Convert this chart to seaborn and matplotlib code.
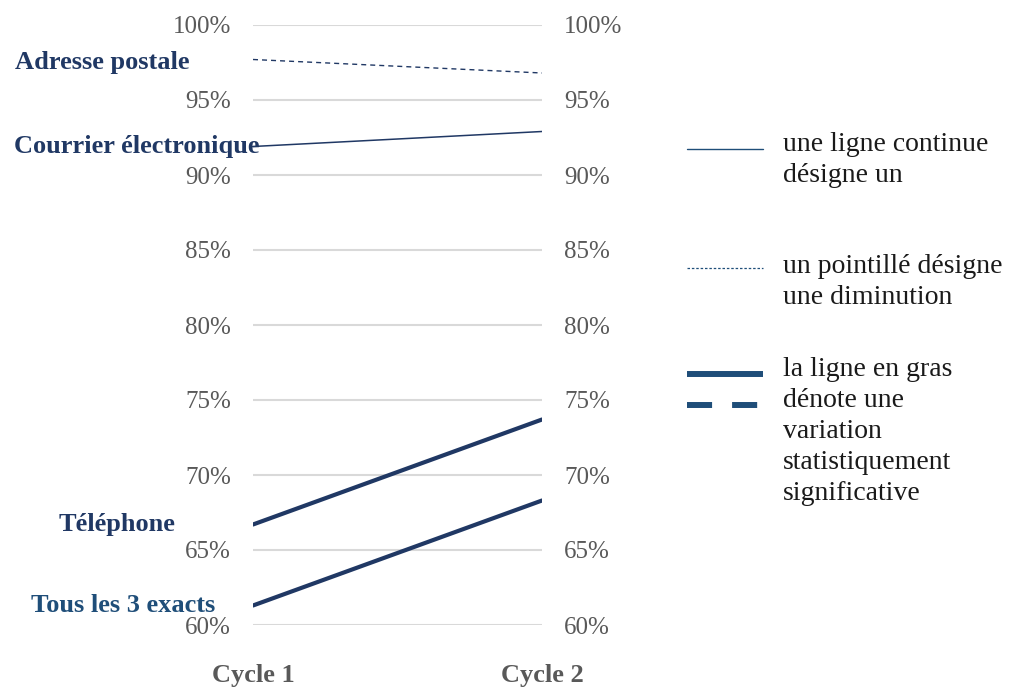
import matplotlib
matplotlib.use("Agg")
import matplotlib.pyplot as plt
import pandas as pd
import seaborn as sns

# data (percent)
cycles = ["Cycle 1", "Cycle 2"]
series_names = ["Adresse postale", "Courrier électronique", "Téléphone", "Tous les 3 exacts"]
adresse_postale = [97.7, 96.8]
courrier_electronique = [91.9, 92.9]
telephone = [66.7, 73.7]
tous_les_3 = [61.3, 68.3]
y_ticks = [60, 65, 70, 75, 80, 85, 90, 95, 100]

legend_texts = [
    "une ligne continue\ndésigne un",
    "un pointillé désigne\nune diminution",
    "la ligne en gras\ndénote une\nvariation\nstatistiquement\nsignificative",
]

NAVY = "#203864"
NAVY2 = "#1F4E79"
GREY_TXT = "#595959"
GRID = "#D9D9D9"
SERIF = ["Liberation Serif", "DejaVu Serif"]

# per-series style: (values, linewidth, dashes, label color, label offset px (x, y))
styles = {
    "Adresse postale": (adresse_postale, 1.0, (3.6, 2.9), NAVY, (-64, -3)),
    "Courrier électronique": (courrier_electronique, 1.1, None, NAVY, (7, 0)),
    "Téléphone": (telephone, 3.0, None, NAVY, (-78, 0)),
    "Tous les 3 exacts": (tous_les_3, 3.0, None, NAVY2, (-38, 0)),
}

sns.set_theme(style="white")
plt.rcParams["font.family"] = SERIF

fig = plt.figure(figsize=(10.13, 6.87), dpi=100)
ax = fig.add_axes([253 / 1013, 62 / 687, 289 / 1013, 600 / 687])

for name in series_names:
    vals, lw, dashes, col, (dx, dy) = styles[name]
    df = pd.DataFrame({"x": [0, 1], "y": vals})
    sns.lineplot(data=df, x="x", y="y", ax=ax, color=NAVY, linewidth=lw)
    ln = ax.lines[-1]
    if dashes:
        ln.set_dashes(dashes)
    ax.annotate(name, xy=(0, vals[0]), xytext=(dx, dy), textcoords="offset pixels",
                ha="right", va="center", fontsize=19, fontweight="bold", color=col,
                annotation_clip=False)

ax.set_xlim(0, 1)
ax.set_ylim(60, 100)
ax.set_yticks(y_ticks)
ax.set_yticklabels([f"{t}%" for t in y_ticks])
ax.set_xticks([0, 1])
ax.set_xticklabels(cycles, fontweight="bold", color=GREY_TXT, fontsize=19)
ax.set_xlabel("")
ax.set_ylabel("")
ax.tick_params(axis="y", length=0, pad=16, labelsize=18, labelcolor=GREY_TXT,
               left=False, right=False, labelleft=True, labelright=True)
ax.tick_params(axis="x", length=0, pad=28)
ax.grid(axis="y", color=GRID, linewidth=1.5)
ax.grid(axis="x", visible=False)
ax.set_axisbelow(True)
for s in ax.spines.values():
    s.set_visible(False)
ax.patch.set_alpha(0)

# legend panel in pixel coordinates
lax = fig.add_axes([0, 0, 1, 1], zorder=-1)
lax.set_xlim(0, 1013)
lax.set_ylim(687, 0)
lax.axis("off")
lax.plot([687, 763], [149, 149], color=NAVY2, lw=1.0)
lax.plot([687, 763], [268, 268], color=NAVY2, lw=0.9, dashes=(2, 1.5))
lax.plot([687, 763], [374, 374], color=NAVY2, lw=4.3, solid_capstyle="butt")
lax.plot([687, 763], [405, 405], color=NAVY2, lw=4.3, dashes=(4.2, 3.35), dash_capstyle="butt")
for txt, ytop in zip(legend_texts, [132, 254, 357]):
    lax.text(783, ytop, txt, ha="left", va="top", fontsize=20, color="#1a1a1a",
             linespacing=1.31)

fig.savefig("out.png", dpi=100)
